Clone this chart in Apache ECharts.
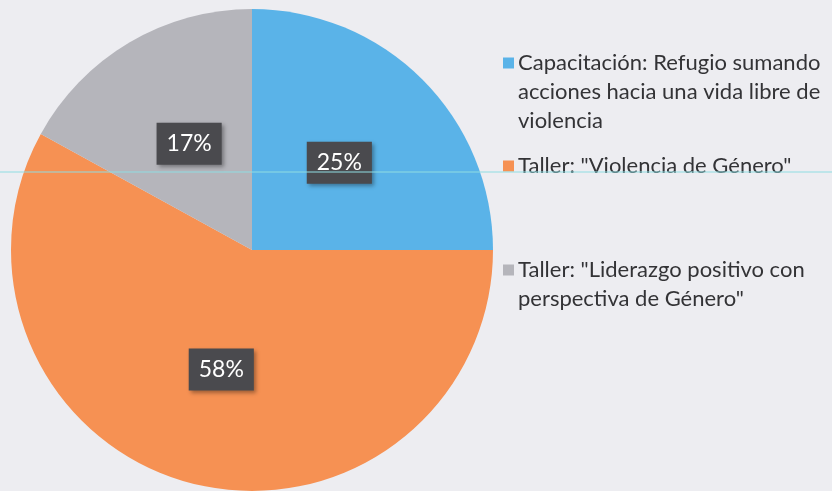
<!DOCTYPE html>
<html>
<head>
<meta charset="utf-8">
<script src="https://cdn.jsdelivr.net/npm/echarts@6/dist/echarts.min.js"></script>
<style>
  html, body { margin: 0; padding: 0; background: #ededf1; }
  #chart { width: 832px; height: 491px; }
</style>
</head>
<body>
<div id="chart"></div>
<script>
// slice names, as in the legend (multi-line)
var categories = [
    'Capacitación: Refugio sumando\nacciones hacia una vida libre de\nviolencia',
    'Taller: "Violencia de Género"',
    'Taller: "Liderazgo positivo con\nperspectiva de Género"'
];
var values = [25, 58, 17];
var colors = ['#5ab3e8', '#f69153', '#b5b5bb'];

var chart = echarts.init(document.getElementById('chart'));

var seriesData = categories.map(function(name, i) {
    return { name: name, value: values[i], itemStyle: { color: colors[i] } };
});

// one legend per item: spacing between items is uneven, and the marker
// sits on the first line, so prepend blank lines to re-centre the text
var lineH = 29;
var firstLineY = [63, 166, 270];
var legends = categories.map(function(name, i) {
    var lines = name.split('\n').length;
    var boxH = (2 * lines - 1) * lineH;
    return {
        data: [name],
        left: 503,
        top: firstLineY[i] - boxH / 2,
        padding: 0,
        orient: 'vertical',
        icon: 'rect',
        itemWidth: 11,
        itemHeight: 11,
        itemGap: 0,
        selectedMode: false,
        formatter: function(n) {
            return new Array(lines).join('\n') + n;
        },
        textStyle: {
            fontFamily: 'Lato',
            fontSize: 22,
            color: '#333336',
            lineHeight: lineH,
            padding: [0, 0, 0, -1]
        }
    };
});

chart.setOption({
    backgroundColor: '#ededf1',
    animation: false,
    legend: legends,
    graphic: [{
        type: 'line',
        shape: { x1: 0, y1: 172, x2: 832, y2: 172 },
        style: { stroke: '#8fdde2', lineWidth: 1 },
        z: 100
    }],
    series: [{
        type: 'pie',
        center: [252, 250],
        radius: [0, 241],
        startAngle: 90,
        clockwise: true,
        data: seriesData,
        label: {
            position: 'inside',
            formatter: function(p) { return p.value + '%'; },
            fontFamily: 'Lato',
            fontSize: 23,
            color: '#ffffff',
            backgroundColor: '#4a4a4e',
            padding: [10, 10, 9, 10],
            shadowColor: 'rgba(0,0,0,0.35)',
            shadowBlur: 4,
            shadowOffsetX: 2,
            shadowOffsetY: 2
        },
        labelLine: { show: false },
        emphasis: { disabled: true }
    }]
});
</script>
</body>
</html>
